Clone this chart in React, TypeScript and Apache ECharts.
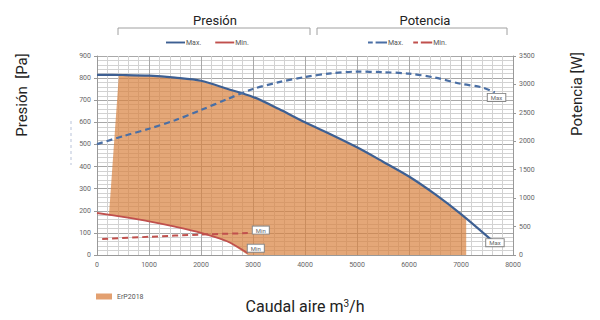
import React, { useEffect, useRef } from "react";
import * as echarts from "echarts";

// Caudal aire [m3/h] vs Presión [Pa]
const presionMax: [number, number][] = [
  [0, 815], [500, 814], [1000, 811], [1500, 802], [2000, 788], [2500, 752],
  [3000, 715], [3500, 660], [4000, 600], [4500, 545], [5000, 487], [5500, 422],
  [6000, 355], [6500, 275], [7000, 185], [7600, 65],
];
const presionMin: [number, number][] = [
  [0, 190], [500, 172], [1000, 152], [1500, 128], [2000, 100], [2500, 62], [2900, 8],
];
// Caudal aire [m3/h] vs Potencia [W]
const potenciaMax: [number, number][] = [
  [0, 1950], [500, 2090], [1000, 2220], [1500, 2370], [2000, 2550], [2500, 2740],
  [3000, 2920], [3500, 3040], [4000, 3130], [4500, 3195], [5000, 3225], [5500, 3215],
  [6000, 3190], [6500, 3120], [7000, 3010], [7400, 2950], [7650, 2860],
];
const potenciaMin: [number, number][] = [
  [100, 280], [1000, 320], [2000, 360], [2900, 385],
];
// ErP2018 zone outline (flow, pressure)
const erp2018: [number, number][] = [
  [230, 180], [420, 813], [500, 812], [1000, 809], [1500, 800], [2000, 786],
  [2500, 750], [3000, 713], [3500, 658], [4000, 598], [4500, 543], [5000, 485],
  [5500, 420], [6000, 353], [6500, 273], [7000, 183], [7100, 165], [7100, 0],
  [2900, 0], [2500, 62], [2000, 100], [1500, 128], [1000, 152], [500, 172], [230, 180],
];

const xTicks = { min: 0, max: 8000, interval: 1000 };
const yLeftTicks = { min: 0, max: 900, interval: 100 };
const yRightTicks = { min: 0, max: 3500, interval: 500 };

const BLUE = "#3d5f92";
const BLUE_D = "#4a6fa5";
const RED = "#c0504d";
const ORANGE = "#d9823f";
const ORANGE_LEG = "#e3a070";
const FONT = "Roboto, 'Liberation Sans', sans-serif";
const SOLID_ICON = "path://M0,0h20v2h-20z";
const DASH_ICON = "path://M0,0h5v2h-5z M8,0h12v2h-12z";

export default function App() {
  const ref = useRef<HTMLDivElement>(null);
  useEffect(() => {
    if (!ref.current) return;
    const chart = echarts.init(ref.current, undefined, { renderer: "svg" });
    const tickLabel = { fontSize: 7, color: "#666", fontFamily: FONT };
    const endLbl = (text: string, offset: [number, number]) => ({
      show: true,
      formatter: text,
      fontSize: 6,
      color: "#666",
      fontFamily: FONT,
      backgroundColor: "#fff",
      borderColor: "#888",
      borderWidth: 1,
      padding: [1, 3, 0, 3],
      distance: 0,
      offset,
    });
    chart.setOption({
      animation: false,
      textStyle: { fontFamily: FONT },
      grid: { left: 97, right: 87, top: 56, bottom: 65 },
      legend: [
        {
          data: [
            { name: "Presión Max.", icon: SOLID_ICON },
            { name: "Presión Min.", icon: SOLID_ICON },
          ],
          left: 161,
          top: 34,
          itemWidth: 19,
          itemHeight: 2,
          itemGap: 14,
          formatter: (n: string) => n.split(" ")[1],
          textStyle: { fontSize: 7, color: "#555", padding: [0, 0, 0, -4] },
        },
        {
          data: [
            { name: "Potencia Max.", icon: DASH_ICON },
            { name: "Potencia Min.", icon: DASH_ICON },
          ],
          left: 363,
          top: 34,
          itemWidth: 19,
          itemHeight: 2,
          itemGap: 10,
          formatter: (n: string) => n.split(" ")[1],
          textStyle: { fontSize: 7, color: "#555", padding: [0, 0, 0, -4] },
        },
        {
          data: [{ name: "ErP2018", icon: "rect", itemStyle: { color: ORANGE_LEG } }],
          left: 91,
          top: 288,
          itemWidth: 16,
          itemHeight: 6,
          textStyle: { fontSize: 7, color: "#555" },
        },
      ],
      xAxis: {
        type: "value",
        ...xTicks,
        name: "Caudal aire m{sup|3}/h",
        nameLocation: "middle",
        nameGap: 43,
        nameTextStyle: {
          fontSize: 16,
          color: "#222",
          fontFamily: FONT,
          rich: { sup: { fontSize: 10, verticalAlign: "top", padding: [0, 0, 6, 0], color: "#222" } },
        },
        axisLine: { show: true, lineStyle: { color: "#999" } },
        axisTick: { show: false },
        axisLabel: { ...tickLabel, margin: 6, formatter: (v: number) => String(v) },
        splitLine: { show: true, lineStyle: { color: "#a8a8a8", width: 1 } },
        minorTick: { show: false, splitNumber: 5 },
        minorSplitLine: { show: true, lineStyle: { color: "#d2d2d2", width: 1 } },
      },
      yAxis: [
        {
          type: "value",
          ...yLeftTicks,
          axisLine: { show: true, lineStyle: { color: "#999" } },
          axisTick: { show: true, length: 3, lineStyle: { color: "#999" } },
          axisLabel: { ...tickLabel, margin: 6, formatter: (v: number) => String(v) },
          splitLine: { show: true, lineStyle: { color: "#a8a8a8", width: 1 } },
          minorTick: { show: false, splitNumber: 5 },
          minorSplitLine: { show: true, lineStyle: { color: "#d2d2d2", width: 1 } },
        },
        {
          type: "value",
          ...yRightTicks,
          position: "right",
          axisLine: { show: true, lineStyle: { color: "#999" } },
          axisTick: { show: true, length: 3, lineStyle: { color: "#999" } },
          axisLabel: { ...tickLabel, margin: 6, formatter: (v: number) => String(v) },
          splitLine: { show: false },
        },
      ],
      graphic: [
        {
          type: "text",
          x: 215,
          y: 20,
          style: { text: "Presión", fontSize: 13, fill: "#222", fontFamily: FONT, align: "center", verticalAlign: "middle" },
        },
        {
          type: "text",
          x: 425,
          y: 20,
          style: { text: "Potencia", fontSize: 13, fill: "#222", fontFamily: FONT, align: "center", verticalAlign: "middle" },
        },
        {
          type: "polyline",
          shape: { points: [[118, 35], [118, 28], [310, 28], [310, 35]] },
          style: { stroke: "#a0a0a0", lineWidth: 1, fill: "none" },
        },
        {
          type: "polyline",
          shape: { points: [[317, 35], [317, 28], [507, 28], [507, 35]] },
          style: { stroke: "#a0a0a0", lineWidth: 1, fill: "none" },
        },
        {
          type: "text",
          x: 22,
          y: 95,
          rotation: Math.PI / 2,
          style: { text: "Presión  [Pa]", fontSize: 15, fill: "#222", fontFamily: FONT, align: "center", verticalAlign: "middle" },
        },
        {
          type: "text",
          x: 577,
          y: 94,
          rotation: Math.PI / 2,
          style: { text: "Potencia [W]", fontSize: 15, fill: "#222", fontFamily: FONT, align: "center", verticalAlign: "middle" },
        },
        {
          type: "line",
          shape: { x1: 71, y1: 121, x2: 71, y2: 165 },
          style: { stroke: "#8a9cc0", lineWidth: 0.6, lineDash: [3, 3] },
        },
      ],
      series: [
        {
          name: "ErP2018",
          type: "custom",
          xAxisIndex: 0,
          yAxisIndex: 0,
          itemStyle: { color: ORANGE_LEG },
          data: [erp2018[0]],
          renderItem: (_params: any, api: any) => {
            const pts = erp2018.map((p) => api.coord(p));
            return {
              type: "polygon",
              shape: { points: pts },
              style: { fill: ORANGE, opacity: 0.7 },
            };
          },
          z: 1,
        },
        {
          name: "Presión Max.",
          type: "line",
          yAxisIndex: 0,
          data: presionMax,
          smooth: 0.3,
          symbol: "none",
          color: BLUE,
          lineStyle: { color: BLUE, width: 2.2 },
          endLabel: endLbl("Max", [-6, 2]),
          z: 3,
        },
        {
          name: "Presión Min.",
          type: "line",
          yAxisIndex: 0,
          data: presionMin,
          smooth: 0.3,
          symbol: "none",
          color: RED,
          lineStyle: { color: RED, width: 1.8 },
          endLabel: endLbl("Min", [0, -5]),
          z: 3,
        },
        {
          name: "Potencia Max.",
          type: "line",
          yAxisIndex: 1,
          data: potenciaMax,
          smooth: 0.3,
          symbol: "none",
          color: BLUE_D,
          lineStyle: { color: BLUE_D, width: 2.2, type: [6, 4] },
          endLabel: endLbl("Max", [-7, 5]),
          z: 3,
        },
        {
          name: "Potencia Min.",
          type: "line",
          yAxisIndex: 1,
          data: potenciaMin,
          smooth: 0.3,
          symbol: "none",
          color: RED,
          lineStyle: { color: RED, width: 2, type: [6, 4] },
          endLabel: endLbl("Min", [5, -3]),
          z: 3,
        },
      ],
    });
    return () => chart.dispose();
  }, []);
  return <div ref={ref} style={{ width: 600, height: 320, position: "absolute", left: 0, top: 0 }} />;
}
